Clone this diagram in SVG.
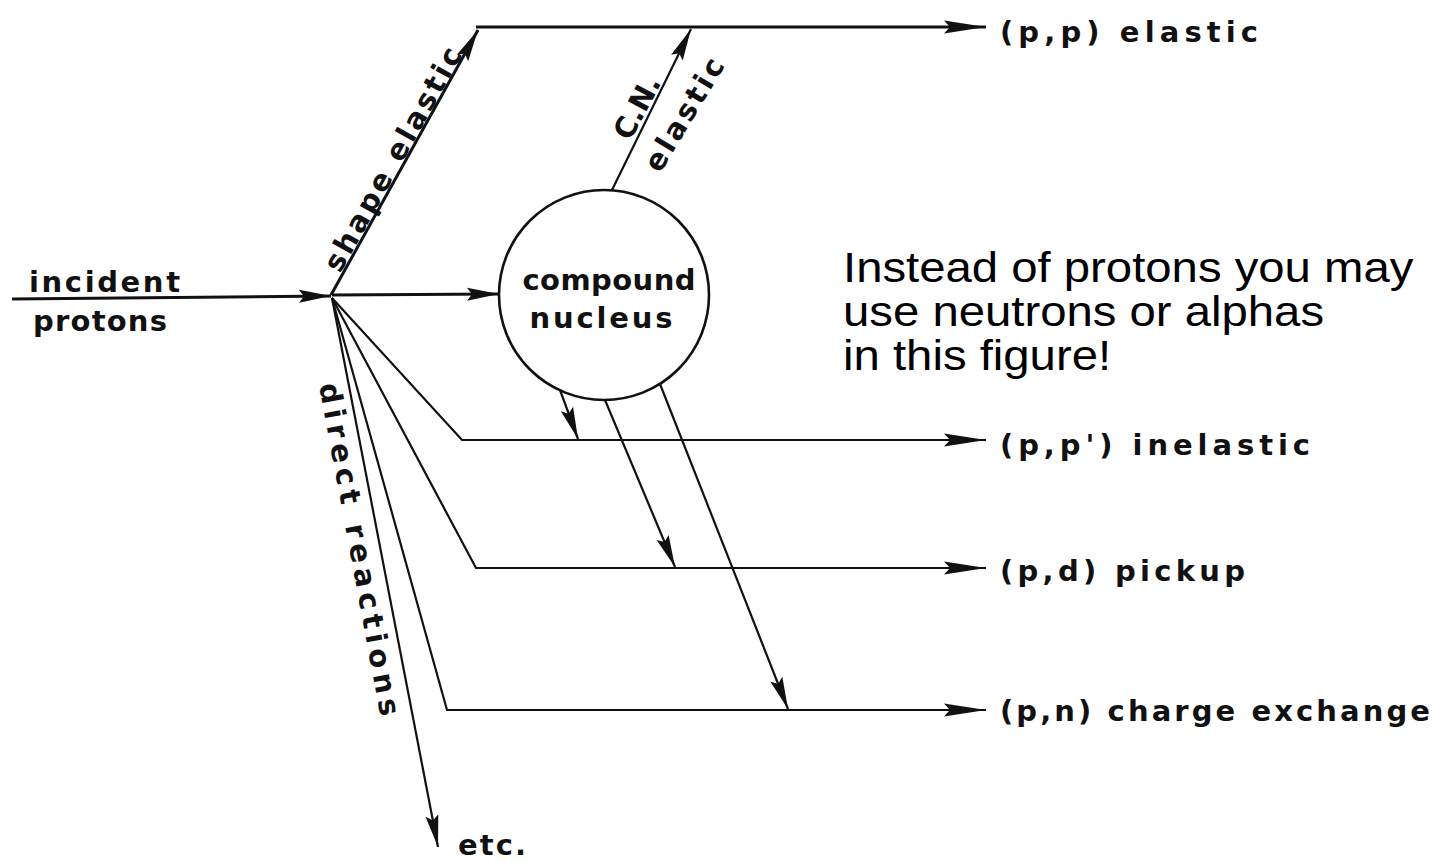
<svg xmlns="http://www.w3.org/2000/svg" width="1441" height="863" viewBox="0 0 1441 863">
<style>
  .bg { fill: #ffffff; }
  .ln { fill: none; stroke: #111; stroke-width: 3; }
  .thin { fill: none; stroke: #111; stroke-width: 2.2; }
  .lbl { font-family: "DejaVu Sans", "Liberation Sans", sans-serif; font-weight: bold; font-size: 29px; fill: #111; }
  .note { font-family: "Liberation Sans", Arial, sans-serif; font-size: 43px; fill: #000; }
  .node { fill: #fff; stroke: #111; stroke-width: 2.6; }
</style>
<defs>
  <marker id="ah" markerUnits="userSpaceOnUse" orient="auto" markerWidth="34" markerHeight="16" refX="32" refY="8">
    <path d="M0,1.5 L32,8 L0,14.5 L5,8 Z" fill="#111"/>
  </marker>
  <marker id="ahBig" markerUnits="userSpaceOnUse" orient="auto" markerWidth="44" markerHeight="16" refX="42" refY="8">
    <path d="M0,1.5 L42,8 L0,14.5 L6,8 Z" fill="#111"/>
  </marker>
</defs>
<rect class="bg" x="0" y="0" width="1441" height="863"/>

<g id="connectors">
  <line class="ln" x1="12" y1="299" x2="331" y2="296" marker-end="url(#ah)"/>
  <line class="ln" x1="332" y1="295" x2="499" y2="294" marker-end="url(#ah)"/>
  <line class="ln" x1="331" y1="295" x2="478" y2="30" marker-end="url(#ah)"/>
  <line class="ln" x1="476" y1="27" x2="986" y2="27" marker-end="url(#ahBig)"/>
  <line class="thin" x1="612" y1="190" x2="691" y2="29" marker-end="url(#ah)"/>
  <line class="thin" x1="560" y1="390" x2="578" y2="439" marker-end="url(#ah)"/>
  <line class="thin" x1="605" y1="400" x2="675" y2="567" marker-end="url(#ah)"/>
  <line class="thin" x1="660" y1="384" x2="788" y2="709" marker-end="url(#ah)"/>
  <polyline class="thin" points="332,298 462,440 986,440" marker-end="url(#ahBig)"/>
  <polyline class="thin" points="332,298 476,568 986,568" marker-end="url(#ahBig)"/>
  <polyline class="thin" points="332,298 447,710 986,710" marker-end="url(#ahBig)"/>
  <line class="thin" x1="332" y1="298" x2="438" y2="847" marker-end="url(#ah)"/>
</g>

<g id="incident">
  <text class="lbl" x="29" y="292" textLength="151" lengthAdjust="spacing">incident</text>
  <text class="lbl" x="33" y="331" textLength="134" lengthAdjust="spacing">protons</text>
</g>

<g id="compound-nucleus">
  <circle class="node" cx="604" cy="295" r="105"/>
  <text class="lbl" x="609" y="290" text-anchor="middle" textLength="173" lengthAdjust="spacing">compound</text>
  <text class="lbl" x="601" y="328" text-anchor="middle" textLength="143" lengthAdjust="spacing">nucleus</text>
</g>

<g id="shape-elastic-label">
  <text class="lbl" transform="translate(340,274) rotate(-60.8)" textLength="252" lengthAdjust="spacing">shape elastic</text>
</g>

<g id="cn-elastic-label">
  <text class="lbl" transform="translate(630,142) rotate(-62)">C.N.</text>
  <text class="lbl" transform="translate(660,174) rotate(-59)" textLength="127" lengthAdjust="spacing">elastic</text>
</g>

<g id="direct-reactions-label">
  <text class="lbl" transform="translate(319,385) rotate(79.5)" textLength="338" lengthAdjust="spacing">direct  reactions</text>
</g>

<g id="out-pp">
  <text class="lbl" x="1000" y="42" textLength="258" lengthAdjust="spacing">(p,p)  elastic</text>
</g>
<g id="out-ppprime">
  <text class="lbl" x="1000" y="455" textLength="310" lengthAdjust="spacing">(p,p')  inelastic</text>
</g>
<g id="out-pd">
  <text class="lbl" x="1000" y="581" textLength="245" lengthAdjust="spacing">(p,d) pickup</text>
</g>
<g id="out-pn">
  <text class="lbl" x="1000" y="721" textLength="430" lengthAdjust="spacing">(p,n) charge  exchange</text>
</g>
<g id="etc">
  <text class="lbl" x="458" y="855" textLength="68" lengthAdjust="spacing">etc.</text>
</g>

<g id="note">
  <text class="note" transform="translate(843,282) scale(1.1,1)">Instead of protons you may</text>
  <text class="note" transform="translate(843,326) scale(1.1,1)">use neutrons or alphas</text>
  <text class="note" transform="translate(843,370) scale(1.1,1)">in this figure!</text>
</g>
</svg>
